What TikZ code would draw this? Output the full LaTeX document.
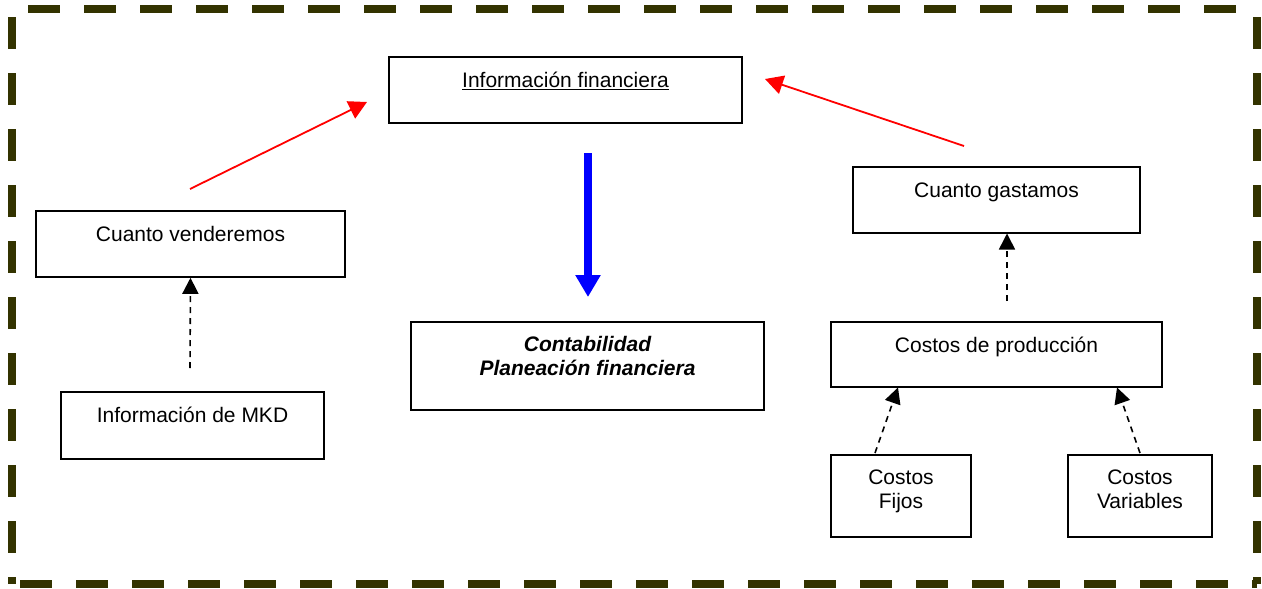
\documentclass[tikz,border=0pt]{standalone}
\usepackage{fontspec}
\setmainfont{Liberation Sans}
\usetikzlibrary{arrows.meta,calc}
\definecolor{frameolive}{RGB}{51,51,0}
\begin{document}
\begin{tikzpicture}[x=1pt,y=-1pt,
  box/.style={draw,line width=1.6pt,rectangle,inner sep=0pt},
  lbl/.style={font=\fontsize{21}{24}\selectfont,align=center,anchor=north},
  frameline/.style={frameolive,line width=8pt,dash pattern=on 32pt off 24pt},
  redarrow/.style={red,line width=1.8pt,-{Triangle[length=18pt,width=19pt]}},
  dasharrow/.style={black,line width=1.6pt,dash pattern=on 6pt off 5pt,-{Triangle[length=16pt,width=16pt]}},
  bluearrow/.style={blue,line width=8pt,-{Triangle[length=22pt,width=24pt]}}
]
\useasboundingbox (0,0) rectangle (1262,589);
% dashed outer frame, drawn side by side
\draw[frameline,dash phase=40pt] (12,9) -- (1257,9);
\draw[frameline,dash phase=48pt] (12,9) -- (12,584);
\draw[frameline,dash phase=48pt] (1257,9) -- (1257,584);
\draw[frameline,dash phase=48pt] (12,584) -- (1257,584);

% boxes
\node[box,minimum width=353pt,minimum height=66pt] (infofin) at (565.5,90) {};
\node[lbl] (infofinT) at (565.5,69) {\underline{Información financiera}};
\node[box,minimum width=309pt,minimum height=66pt] (vender) at (190.5,244) {};
\node[lbl] (venderT) at (190.5,223) {Cuanto venderemos};
\node[box,minimum width=263pt,minimum height=67pt] (mkd) at (192.5,425.5) {};
\node[lbl] (mkdT) at (192.5,404) {Información de MKD};
\node[box,minimum width=353pt,minimum height=88pt] (conta) at (587.5,366) {};
\node[lbl,font=\fontsize{21}{24}\selectfont\bfseries\itshape] (contaT) at (587.5,333) {Contabilidad\\Planeación financiera};
\node[box,minimum width=287pt,minimum height=66pt] (gasto) at (996.5,200) {};
\node[lbl] (gastoT) at (996.5,179) {Cuanto gastamos};
\node[box,minimum width=331pt,minimum height=65pt] (prod) at (996.5,354.5) {};
\node[lbl] (prodT) at (996.5,334) {Costos de producción};
\node[box,minimum width=140pt,minimum height=82pt] (fijos) at (901,496) {};
\node[lbl] (fijosT) at (901,466) {Costos\\Fijos};
\node[box,minimum width=144pt,minimum height=82pt] (vars) at (1140,496) {};
\node[lbl] (varsT) at (1140,466) {Costos\\Variables};

% connector end points
\coordinate (r1s) at (190,189);
\coordinate (r1e) at (367,102);
\coordinate (r2s) at (964,146);
\coordinate (r2e) at (765,79);
\coordinate (bls) at (588,153);
\coordinate (ble) at (588,297);
\coordinate (d1s) at (190,368);
\coordinate (d2s) at (1007,301);
\coordinate (d2e) at (1007,233.5);
\coordinate (d3s) at (875,453);
\coordinate (d3e) at (898,387.5);
\coordinate (d4s) at (1140,453);
\coordinate (d4e) at (1117,387.5);

% connectors
\draw[redarrow] (r1s) -- (r1e);
\draw[redarrow] (r2s) -- (r2e);
\draw[bluearrow] (bls) -- (ble);
\draw[dasharrow] (d1s) -- (vender.south);
\draw[dasharrow] (d2s) -- (d2e);
\draw[dasharrow] (d3s) -- (d3e);
\draw[dasharrow] (d4s) -- (d4e);
\end{tikzpicture}
\end{document}
